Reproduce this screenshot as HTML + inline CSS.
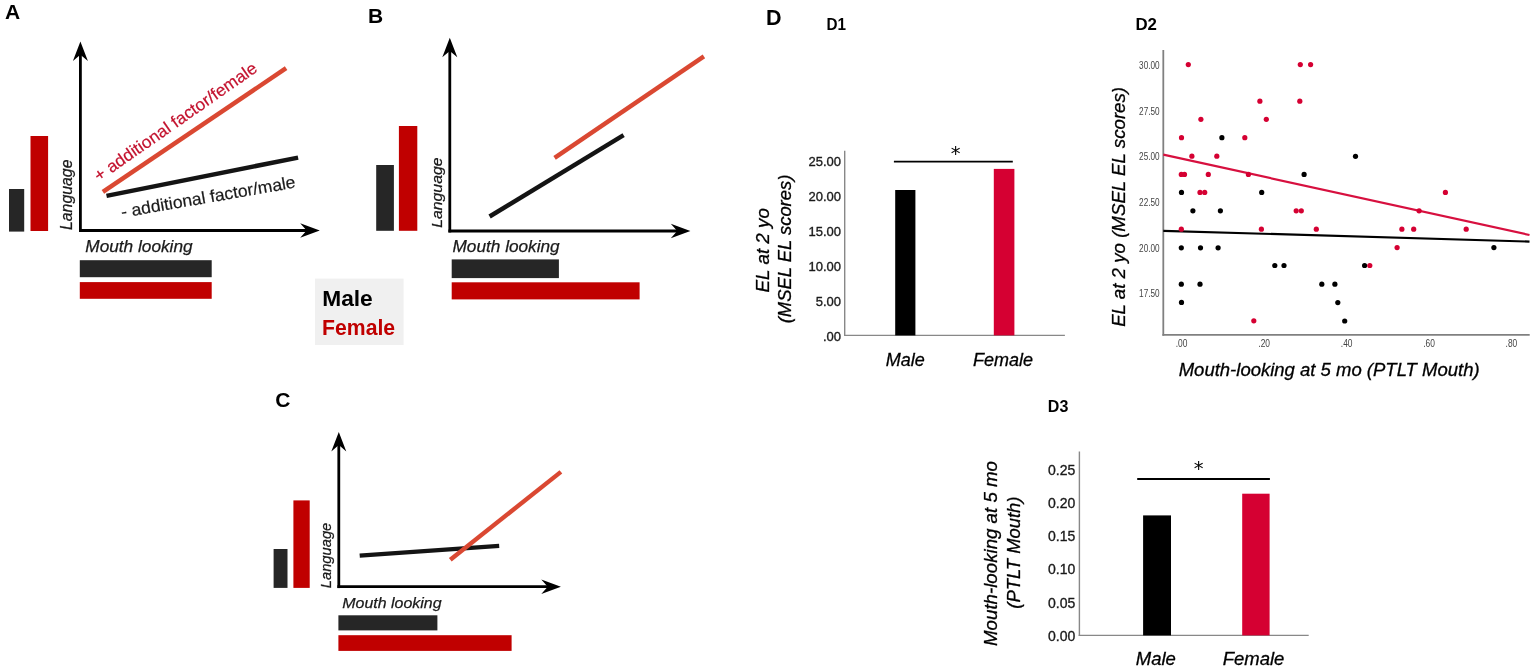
<!DOCTYPE html>
<html><head><meta charset="utf-8"><title>Figure</title>
<style>
html,body{margin:0;padding:0;background:#fff;}
body{width:1535px;height:670px;overflow:hidden;}
svg{display:block;}
text{font-family:'Liberation Sans', Arial, sans-serif;}
</style></head>
<body>
<svg width="1535" height="670" viewBox="0 0 1535 670">
<rect x="0" y="0" width="1535" height="670" fill="#fff"/>
<text x="4.9" y="18.7" font-size="21" fill="#000" font-weight="bold" font-style="normal" text-anchor="start" >A</text>
<rect x="9" y="189" width="15.2" height="42.6" fill="#262626"/>
<rect x="30.5" y="136" width="17.6" height="95" fill="#C00000"/>
<line x1="80.4" y1="51.5" x2="80.4" y2="231.9" stroke="#000" stroke-width="2.8" stroke-linecap="butt"/>
<line x1="79.0" y1="230.5" x2="309.8" y2="230.5" stroke="#000" stroke-width="2.8" stroke-linecap="butt"/>
<path d="M80.4 41.5 L87.9 61.1 L80.4 54.7 L72.9 61.1 Z" fill="#000"/>
<path d="M319.8 230.5 L300.2 223.2 L306.6 230.5 L300.2 237.8 Z" fill="#000"/>
<text transform="translate(72.0 230) rotate(-90)" font-size="15.8" fill="#1a1a1a" font-weight="normal" font-style="italic" text-anchor="start" textLength="70.5" lengthAdjust="spacingAndGlyphs" stroke="#1a1a1a" stroke-width="0.25">Language</text>
<line x1="102.9" y1="191.8" x2="286.1" y2="68.2" stroke="#DA4832" stroke-width="4.5" stroke-linecap="butt"/>
<line x1="106.5" y1="195.9" x2="298.1" y2="157.6" stroke="#141414" stroke-width="4.5" stroke-linecap="butt"/>
<text transform="translate(98.9 182.0) rotate(-34.9)" font-size="17" fill="#C3122E" font-weight="normal" font-style="normal" text-anchor="start" textLength="194.5" lengthAdjust="spacingAndGlyphs" stroke="#C3122E" stroke-width="0.2">+ additional factor/female</text>
<text transform="translate(122.0 217.8) rotate(-9.9)" font-size="17" fill="#1a1a1a" font-weight="normal" font-style="normal" text-anchor="start" textLength="176.8" lengthAdjust="spacingAndGlyphs" stroke="#1a1a1a" stroke-width="0.2">- additional factor/male</text>
<text x="85.3" y="251.8" font-size="16.3" fill="#1a1a1a" font-weight="normal" font-style="italic" text-anchor="start" textLength="107.3" lengthAdjust="spacingAndGlyphs" stroke="#1a1a1a" stroke-width="0.25">Mouth looking</text>
<rect x="79.8" y="260.2" width="131.9" height="17" fill="#262626"/>
<rect x="79.8" y="282.1" width="131.9" height="16.7" fill="#C00000"/>
<rect x="315" y="278.6" width="88.6" height="66.4" fill="#F0F0F0"/>
<text x="322.2" y="305.6" font-size="21.5" fill="#000" font-weight="bold" font-style="normal" text-anchor="start" textLength="50.6" lengthAdjust="spacingAndGlyphs" >Male</text>
<text x="322.1" y="335" font-size="21.5" fill="#C00000" font-weight="bold" font-style="normal" text-anchor="start" textLength="73" lengthAdjust="spacingAndGlyphs" >Female</text>
<text x="368.0" y="22.7" font-size="21" fill="#000" font-weight="bold" font-style="normal" text-anchor="start" >B</text>
<rect x="376.2" y="165" width="17.7" height="65.8" fill="#262626"/>
<rect x="398.9" y="126" width="18.4" height="104.8" fill="#C00000"/>
<line x1="449.8" y1="47.7" x2="449.8" y2="232.4" stroke="#000" stroke-width="2.8" stroke-linecap="butt"/>
<line x1="448.40000000000003" y1="231" x2="680.4" y2="231" stroke="#000" stroke-width="2.8" stroke-linecap="butt"/>
<path d="M449.8 37.7 L457.3 57.300000000000004 L449.8 50.900000000000006 L442.3 57.300000000000004 Z" fill="#000"/>
<path d="M690.4 231 L670.8 223.7 L677.1999999999999 231 L670.8 238.3 Z" fill="#000"/>
<text transform="translate(441.9 227.8) rotate(-90)" font-size="15.5" fill="#1a1a1a" font-weight="normal" font-style="italic" text-anchor="start" textLength="70.3" lengthAdjust="spacingAndGlyphs" stroke="#1a1a1a" stroke-width="0.25">Language</text>
<line x1="489.6" y1="216.5" x2="623.6" y2="135.1" stroke="#141414" stroke-width="4.4" stroke-linecap="butt"/>
<line x1="554.6" y1="157.9" x2="703.9" y2="56.4" stroke="#DA4832" stroke-width="4.4" stroke-linecap="butt"/>
<text x="452.5" y="252" font-size="16.3" fill="#1a1a1a" font-weight="normal" font-style="italic" text-anchor="start" textLength="107.2" lengthAdjust="spacingAndGlyphs" stroke="#1a1a1a" stroke-width="0.25">Mouth looking</text>
<rect x="451.7" y="259.4" width="107.2" height="18.7" fill="#262626"/>
<rect x="451.7" y="282.3" width="187.9" height="17.1" fill="#C00000"/>
<text x="275.3" y="406.9" font-size="21" fill="#000" font-weight="bold" font-style="normal" text-anchor="start" >C</text>
<rect x="273.6" y="549" width="13.9" height="38.9" fill="#262626"/>
<rect x="293.4" y="500.4" width="16.3" height="87.5" fill="#C00000"/>
<line x1="338.8" y1="441.9" x2="338.8" y2="588.1" stroke="#000" stroke-width="2.8" stroke-linecap="butt"/>
<line x1="337.40000000000003" y1="586.7" x2="550.9" y2="586.7" stroke="#000" stroke-width="2.8" stroke-linecap="butt"/>
<path d="M338.8 431.9 L346.3 451.5 L338.8 445.09999999999997 L331.3 451.5 Z" fill="#000"/>
<path d="M560.9 586.7 L541.3 579.4000000000001 L547.6999999999999 586.7 L541.3 594.0 Z" fill="#000"/>
<text transform="translate(331.3 588.2) rotate(-90)" font-size="15.3" fill="#1a1a1a" font-weight="normal" font-style="italic" text-anchor="start" textLength="65.5" lengthAdjust="spacingAndGlyphs" stroke="#1a1a1a" stroke-width="0.25">Language</text>
<line x1="359.7" y1="555.6" x2="499.2" y2="545.9" stroke="#141414" stroke-width="4.4" stroke-linecap="butt"/>
<line x1="450.3" y1="559.7" x2="560.9" y2="471.9" stroke="#DA4832" stroke-width="4.4" stroke-linecap="butt"/>
<text x="342.3" y="607.5" font-size="15.2" fill="#1a1a1a" font-weight="normal" font-style="italic" text-anchor="start" textLength="99.3" lengthAdjust="spacingAndGlyphs" stroke="#1a1a1a" stroke-width="0.25">Mouth looking</text>
<rect x="338.4" y="615.3" width="99" height="15.1" fill="#262626"/>
<rect x="338.4" y="635.2" width="173.2" height="15.7" fill="#C00000"/>
<text x="766.1" y="24.7" font-size="21.5" fill="#000" font-weight="bold" font-style="normal" text-anchor="start" >D</text>
<text x="826.6" y="29.8" font-size="16.5" fill="#000" font-weight="bold" font-style="normal" text-anchor="start" textLength="19.5" lengthAdjust="spacingAndGlyphs" >D1</text>
<text x="1135.4" y="29.9" font-size="16.5" fill="#000" font-weight="bold" font-style="normal" text-anchor="start" textLength="21.5" lengthAdjust="spacingAndGlyphs" >D2</text>
<text x="1047.8" y="411.8" font-size="16.5" fill="#000" font-weight="bold" font-style="normal" text-anchor="start" textLength="20.5" lengthAdjust="spacingAndGlyphs" >D3</text>
<line x1="844.7" y1="150.7" x2="844.7" y2="336.1" stroke="#888888" stroke-width="1.4" stroke-linecap="butt"/>
<line x1="844" y1="335.4" x2="1064.9" y2="335.4" stroke="#888888" stroke-width="1.4" stroke-linecap="butt"/>
<text x="841" y="165.5" font-size="13" fill="#1a1a1a" font-weight="normal" font-style="normal" text-anchor="end" stroke="#1a1a1a" stroke-width="0.35">25.00</text>
<text x="841" y="200.6" font-size="13" fill="#1a1a1a" font-weight="normal" font-style="normal" text-anchor="end" stroke="#1a1a1a" stroke-width="0.35">20.00</text>
<text x="841" y="235.7" font-size="13" fill="#1a1a1a" font-weight="normal" font-style="normal" text-anchor="end" stroke="#1a1a1a" stroke-width="0.35">15.00</text>
<text x="841" y="270.8" font-size="13" fill="#1a1a1a" font-weight="normal" font-style="normal" text-anchor="end" stroke="#1a1a1a" stroke-width="0.35">10.00</text>
<text x="841" y="305.90000000000003" font-size="13" fill="#1a1a1a" font-weight="normal" font-style="normal" text-anchor="end" stroke="#1a1a1a" stroke-width="0.35">5.00</text>
<text x="841" y="341.0" font-size="13" fill="#1a1a1a" font-weight="normal" font-style="normal" text-anchor="end" stroke="#1a1a1a" stroke-width="0.35">.00</text>
<rect x="895.2" y="190" width="20.2" height="145.4" fill="#000"/>
<rect x="993.8" y="168.9" width="20.6" height="166.5" fill="#D50032"/>
<line x1="893.9" y1="161.7" x2="1012.8" y2="161.7" stroke="#000" stroke-width="1.8" stroke-linecap="butt"/>
<text x="955.6" y="159.8" font-size="19.5" fill="#000" font-weight="normal" font-style="normal" text-anchor="middle" style="font-family:'DejaVu Sans', 'Liberation Sans', sans-serif">*</text>
<text x="905.3" y="366" font-size="18" fill="#000" font-weight="normal" font-style="italic" text-anchor="middle" stroke="#000" stroke-width="0.3">Male</text>
<text x="1003" y="366" font-size="18" fill="#000" font-weight="normal" font-style="italic" text-anchor="middle" stroke="#000" stroke-width="0.3">Female</text>
<text transform="translate(768.7 250.3) rotate(-90)" font-size="18.8" fill="#000" font-weight="normal" font-style="italic" text-anchor="middle" stroke="#000" stroke-width="0.3">EL at 2 yo</text>
<text transform="translate(791.0 249) rotate(-90)" font-size="18.4" fill="#000" font-weight="normal" font-style="italic" text-anchor="middle" stroke="#000" stroke-width="0.3">(MSEL EL scores)</text>
<line x1="1163.3" y1="50" x2="1163.3" y2="335.8" stroke="#808080" stroke-width="1.8" stroke-linecap="butt"/>
<line x1="1162.4" y1="334.9" x2="1529.7" y2="334.9" stroke="#808080" stroke-width="1.8" stroke-linecap="butt"/>
<text x="1159.6" y="68.8" font-size="10.2" fill="#444" font-weight="normal" font-style="normal" text-anchor="end" textLength="20.5" lengthAdjust="spacingAndGlyphs" >30.00</text>
<text x="1159.6" y="114.8" font-size="10.2" fill="#444" font-weight="normal" font-style="normal" text-anchor="end" textLength="20.5" lengthAdjust="spacingAndGlyphs" >27.50</text>
<text x="1159.6" y="160.2" font-size="10.2" fill="#444" font-weight="normal" font-style="normal" text-anchor="end" textLength="20.5" lengthAdjust="spacingAndGlyphs" >25.00</text>
<text x="1159.6" y="205.89999999999998" font-size="10.2" fill="#444" font-weight="normal" font-style="normal" text-anchor="end" textLength="20.5" lengthAdjust="spacingAndGlyphs" >22.50</text>
<text x="1159.6" y="251.6" font-size="10.2" fill="#444" font-weight="normal" font-style="normal" text-anchor="end" textLength="20.5" lengthAdjust="spacingAndGlyphs" >20.00</text>
<text x="1159.6" y="297.3" font-size="10.2" fill="#444" font-weight="normal" font-style="normal" text-anchor="end" textLength="20.5" lengthAdjust="spacingAndGlyphs" >17.50</text>
<text x="1181.5" y="347.0" font-size="10.2" fill="#444" font-weight="normal" font-style="normal" text-anchor="middle" textLength="11.7" lengthAdjust="spacingAndGlyphs" >.00</text>
<text x="1264.2" y="347.0" font-size="10.2" fill="#444" font-weight="normal" font-style="normal" text-anchor="middle" textLength="11.7" lengthAdjust="spacingAndGlyphs" >.20</text>
<text x="1346.7" y="347.0" font-size="10.2" fill="#444" font-weight="normal" font-style="normal" text-anchor="middle" textLength="11.7" lengthAdjust="spacingAndGlyphs" >.40</text>
<text x="1429" y="347.0" font-size="10.2" fill="#444" font-weight="normal" font-style="normal" text-anchor="middle" textLength="11.7" lengthAdjust="spacingAndGlyphs" >.60</text>
<text x="1511.4" y="347.0" font-size="10.2" fill="#444" font-weight="normal" font-style="normal" text-anchor="middle" textLength="11.7" lengthAdjust="spacingAndGlyphs" >.80</text>
<line x1="1163.3" y1="230.8" x2="1529.5" y2="241.6" stroke="#000" stroke-width="2.2" stroke-linecap="butt"/>
<line x1="1163.3" y1="154.6" x2="1529.5" y2="235" stroke="#D7103F" stroke-width="2.2" stroke-linecap="butt"/>
<circle cx="1221.9" cy="137.7" r="2.6" fill="#000"/>
<circle cx="1355.5" cy="156.3" r="2.6" fill="#000"/>
<circle cx="1304.1" cy="174.4" r="2.6" fill="#000"/>
<circle cx="1181.5" cy="192.4" r="2.6" fill="#000"/>
<circle cx="1261.7" cy="192.4" r="2.6" fill="#000"/>
<circle cx="1192.9" cy="210.8" r="2.6" fill="#000"/>
<circle cx="1220.4" cy="210.8" r="2.6" fill="#000"/>
<circle cx="1181.3" cy="247.8" r="2.6" fill="#000"/>
<circle cx="1200.5" cy="247.8" r="2.6" fill="#000"/>
<circle cx="1218.1" cy="247.8" r="2.6" fill="#000"/>
<circle cx="1493.9" cy="247.6" r="2.6" fill="#000"/>
<circle cx="1274.8" cy="265.5" r="2.6" fill="#000"/>
<circle cx="1284.0" cy="265.5" r="2.6" fill="#000"/>
<circle cx="1364.6" cy="265.5" r="2.6" fill="#000"/>
<circle cx="1181.3" cy="284.2" r="2.6" fill="#000"/>
<circle cx="1200.0" cy="284.2" r="2.6" fill="#000"/>
<circle cx="1321.8" cy="284.2" r="2.6" fill="#000"/>
<circle cx="1334.9" cy="284.2" r="2.6" fill="#000"/>
<circle cx="1181.5" cy="302.4" r="2.6" fill="#000"/>
<circle cx="1337.8" cy="302.6" r="2.6" fill="#000"/>
<circle cx="1344.7" cy="321.0" r="2.6" fill="#000"/>
<circle cx="1188.3" cy="64.6" r="2.6" fill="#D50032"/>
<circle cx="1300.3" cy="64.6" r="2.6" fill="#D50032"/>
<circle cx="1310.6" cy="64.6" r="2.6" fill="#D50032"/>
<circle cx="1259.9" cy="101.2" r="2.6" fill="#D50032"/>
<circle cx="1299.8" cy="101.2" r="2.6" fill="#D50032"/>
<circle cx="1200.9" cy="119.3" r="2.6" fill="#D50032"/>
<circle cx="1266.3" cy="119.3" r="2.6" fill="#D50032"/>
<circle cx="1181.5" cy="137.7" r="2.6" fill="#D50032"/>
<circle cx="1244.8" cy="137.7" r="2.6" fill="#D50032"/>
<circle cx="1191.9" cy="156.2" r="2.6" fill="#D50032"/>
<circle cx="1216.8" cy="156.2" r="2.6" fill="#D50032"/>
<circle cx="1181.3" cy="174.4" r="2.6" fill="#D50032"/>
<circle cx="1184.5" cy="174.4" r="2.6" fill="#D50032"/>
<circle cx="1208.3" cy="174.4" r="2.6" fill="#D50032"/>
<circle cx="1248.4" cy="174.4" r="2.6" fill="#D50032"/>
<circle cx="1200.0" cy="192.4" r="2.6" fill="#D50032"/>
<circle cx="1204.7" cy="192.4" r="2.6" fill="#D50032"/>
<circle cx="1445.4" cy="192.4" r="2.6" fill="#D50032"/>
<circle cx="1296.2" cy="210.8" r="2.6" fill="#D50032"/>
<circle cx="1301.3" cy="210.8" r="2.6" fill="#D50032"/>
<circle cx="1419.1" cy="210.8" r="2.6" fill="#D50032"/>
<circle cx="1181.3" cy="229.2" r="2.6" fill="#D50032"/>
<circle cx="1261.4" cy="229.2" r="2.6" fill="#D50032"/>
<circle cx="1316.3" cy="229.2" r="2.6" fill="#D50032"/>
<circle cx="1401.9" cy="229.2" r="2.6" fill="#D50032"/>
<circle cx="1413.7" cy="229.2" r="2.6" fill="#D50032"/>
<circle cx="1466.2" cy="229.2" r="2.6" fill="#D50032"/>
<circle cx="1397.1" cy="247.6" r="2.6" fill="#D50032"/>
<circle cx="1369.8" cy="265.5" r="2.6" fill="#D50032"/>
<circle cx="1253.8" cy="320.8" r="2.6" fill="#D50032"/>
<text transform="translate(1125.0 206.9) rotate(-90)" font-size="18.7" fill="#000" font-weight="normal" font-style="italic" text-anchor="middle" stroke="#000" stroke-width="0.3">EL at 2 yo (MSEL EL scores)</text>
<text x="1178.7" y="375.5" font-size="18.5" fill="#000" font-weight="normal" font-style="italic" text-anchor="start" stroke="#000" stroke-width="0.3">Mouth-looking at 5 mo (PTLT Mouth)</text>
<line x1="1079.4" y1="451.5" x2="1079.4" y2="636" stroke="#888888" stroke-width="1.4" stroke-linecap="butt"/>
<line x1="1078.7" y1="635.4" x2="1308.7" y2="635.4" stroke="#888888" stroke-width="1.4" stroke-linecap="butt"/>
<text x="1075.3" y="475.2" font-size="14" fill="#1a1a1a" font-weight="normal" font-style="normal" text-anchor="end" stroke="#1a1a1a" stroke-width="0.35">0.25</text>
<text x="1075.3" y="508.2" font-size="14" fill="#1a1a1a" font-weight="normal" font-style="normal" text-anchor="end" stroke="#1a1a1a" stroke-width="0.35">0.20</text>
<text x="1075.3" y="541.3" font-size="14" fill="#1a1a1a" font-weight="normal" font-style="normal" text-anchor="end" stroke="#1a1a1a" stroke-width="0.35">0.15</text>
<text x="1075.3" y="574.4" font-size="14" fill="#1a1a1a" font-weight="normal" font-style="normal" text-anchor="end" stroke="#1a1a1a" stroke-width="0.35">0.10</text>
<text x="1075.3" y="607.7" font-size="14" fill="#1a1a1a" font-weight="normal" font-style="normal" text-anchor="end" stroke="#1a1a1a" stroke-width="0.35">0.05</text>
<text x="1075.3" y="640.8" font-size="14" fill="#1a1a1a" font-weight="normal" font-style="normal" text-anchor="end" stroke="#1a1a1a" stroke-width="0.35">0.00</text>
<rect x="1143.1" y="515.4" width="27.9" height="120" fill="#000"/>
<rect x="1242.2" y="493.7" width="27.4" height="141.7" fill="#D50032"/>
<line x1="1137.2" y1="479" x2="1269.9" y2="479" stroke="#000" stroke-width="1.8" stroke-linecap="butt"/>
<text x="1198.6" y="474.5" font-size="19.5" fill="#000" font-weight="normal" font-style="normal" text-anchor="middle" style="font-family:'DejaVu Sans', 'Liberation Sans', sans-serif">*</text>
<text x="1155.8" y="665" font-size="18.5" fill="#000" font-weight="normal" font-style="italic" text-anchor="middle" stroke="#000" stroke-width="0.3">Male</text>
<text x="1253.5" y="665" font-size="18.5" fill="#000" font-weight="normal" font-style="italic" text-anchor="middle" stroke="#000" stroke-width="0.3">Female</text>
<text transform="translate(996.7 553.5) rotate(-90)" font-size="18.7" fill="#000" font-weight="normal" font-style="italic" text-anchor="middle" stroke="#000" stroke-width="0.3">Mouth-looking at 5 mo</text>
<text transform="translate(1020.0 552.6) rotate(-90)" font-size="18.4" fill="#000" font-weight="normal" font-style="italic" text-anchor="middle" stroke="#000" stroke-width="0.3">(PTLT Mouth)</text>
</svg>
</body></html>
